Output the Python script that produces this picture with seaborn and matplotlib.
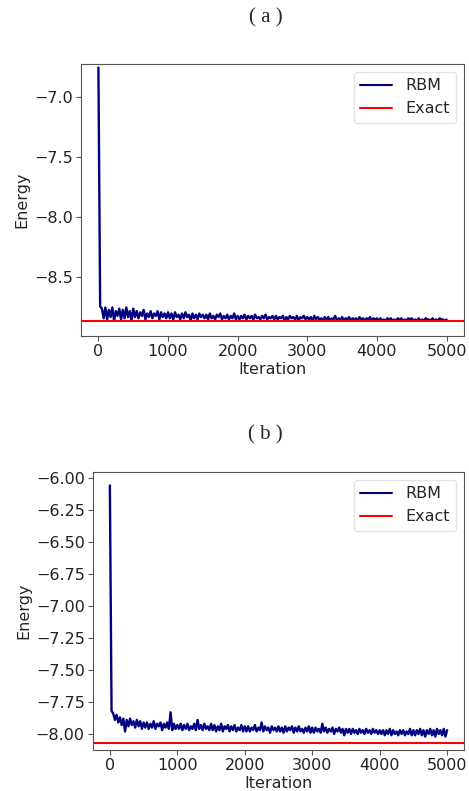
import numpy as np
import matplotlib
matplotlib.use("Agg")
import matplotlib.pyplot as plt
import seaborn as sns

# iterations sampled every 25 steps (0 .. 5000)
iteracoes = np.arange(0, 5001, 25)

# energia RBM painel (a)
rbm_a = [
    -6.76, -8.74,
    -8.76, -8.84, -8.75, -8.85, -8.77, -8.83, -8.75, -8.86, -8.78, -8.82,
    -8.76, -8.85, -8.77, -8.84, -8.75, -8.83, -8.78, -8.86, -8.76,
    -8.83, -8.78, -8.84, -8.79, -8.82, -8.77, -8.85, -8.80, -8.83, -8.78,
    -8.84, -8.80, -8.82, -8.78, -8.85, -8.79, -8.83, -8.80, -8.84, -8.79,
    -8.84, -8.80, -8.85, -8.79, -8.83, -8.81, -8.85, -8.80, -8.84, -8.79,
    -8.83, -8.81, -8.86, -8.80, -8.84, -8.81, -8.85, -8.80, -8.83, -8.81,
    -8.84, -8.81, -8.85, -8.80, -8.84, -8.82, -8.85, -8.81, -8.83, -8.80,
    -8.85, -8.82, -8.84, -8.81, -8.85, -8.82, -8.84, -8.80, -8.85, -8.82,
    -8.85, -8.82, -8.84, -8.81, -8.85, -8.82, -8.84, -8.82, -8.85, -8.81,
    -8.84, -8.83, -8.85, -8.82, -8.84, -8.81, -8.85, -8.83, -8.84, -8.82,
    -8.85, -8.82, -8.85, -8.83, -8.84, -8.82, -8.86, -8.83, -8.85, -8.82,
    -8.84, -8.83, -8.85, -8.82, -8.86, -8.83, -8.84, -8.82, -8.85, -8.83,
    -8.85, -8.83, -8.86, -8.82, -8.85, -8.83, -8.85, -8.84, -8.86, -8.83,
    -8.85, -8.83, -8.86, -8.84, -8.85, -8.82, -8.86, -8.84, -8.85, -8.83,
    -8.86, -8.84, -8.85, -8.83, -8.86, -8.84, -8.85, -8.84, -8.86, -8.83,
    -8.85, -8.84, -8.86, -8.84, -8.85, -8.83, -8.86, -8.84, -8.85, -8.84,
    -8.86, -8.84, -8.86, -8.85, -8.86, -8.84, -8.85, -8.84, -8.86, -8.85,
    -8.86, -8.84, -8.85, -8.84, -8.86, -8.85, -8.86, -8.84, -8.85, -8.84,
    -8.86, -8.85, -8.86, -8.84, -8.86, -8.85, -8.86, -8.84, -8.85, -8.85,
    -8.86, -8.84, -8.86, -8.85, -8.86, -8.84, -8.85, -8.85, -8.86, -8.85,
]

# energia RBM painel (b)
rbm_b = [
    -6.06, -7.82,
    -7.84, -7.89, -7.85, -7.91, -7.87, -7.93, -7.88, -7.98, -7.89, -7.94,
    -7.88, -7.93, -7.90, -7.95, -7.89, -7.94, -7.90, -7.96, -7.91,
    -7.95, -7.91, -7.96, -7.92, -7.95, -7.90, -7.96, -7.92, -7.94, -7.91,
    -7.97, -7.92, -7.95, -7.91, -7.96, -7.83, -7.97, -7.92, -7.96, -7.93,
    -7.96, -7.92, -7.97, -7.93, -7.96, -7.92, -7.97, -7.94, -7.96, -7.92,
    -7.97, -7.89, -7.96, -7.93, -7.97, -7.92, -7.96, -7.94, -7.97, -7.92,
    -7.97, -7.93, -7.98, -7.94, -7.97, -7.92, -7.98, -7.94, -7.96, -7.93,
    -7.98, -7.94, -7.97, -7.93, -7.98, -7.95, -7.97, -7.93, -7.98, -7.94,
    -7.98, -7.94, -7.98, -7.95, -7.97, -7.93, -7.98, -7.95, -7.97, -7.91,
    -7.98, -7.94, -7.97, -7.95, -7.99, -7.94, -7.97, -7.95, -7.98, -7.94,
    -7.98, -7.95, -7.99, -7.94, -7.98, -7.95, -7.97, -7.94, -7.99, -7.95,
    -7.98, -7.94, -7.98, -7.96, -7.99, -7.95, -7.98, -7.94, -7.99, -7.95,
    -7.99, -7.95, -7.98, -7.96, -7.99, -7.92, -7.98, -7.95, -7.99, -7.96,
    -7.98, -7.95, -8.00, -7.96, -7.98, -7.95, -7.99, -7.96, -8.01, -7.96,
    -7.99, -7.96, -8.00, -7.96, -7.99, -7.97, -8.00, -7.96, -7.99, -7.97,
    -8.00, -7.96, -7.99, -7.97, -8.00, -7.96, -7.99, -7.97, -8.00, -7.97,
    -8.00, -7.97, -8.01, -7.97, -8.00, -7.96, -8.01, -7.97, -8.00, -7.98,
    -8.01, -7.97, -8.00, -7.97, -8.01, -7.98, -8.00, -7.96, -8.01, -7.97,
    -8.01, -7.97, -8.00, -7.96, -8.01, -7.97, -8.02, -7.97, -8.00, -7.96,
    -8.01, -7.97, -8.02, -7.96, -8.00, -7.97, -8.01, -7.96, -8.02, -7.97,
]

exato_a = -8.86
exato_b = -8.07

sns.set_style("ticks")
plt.rcParams['font.family'] = ['DejaVu Sans']
plt.rcParams['font.size'] = 11.5

fig = plt.figure(figsize=(4.69, 7.91), dpi=100)
ax_a = fig.add_axes([0.1727, 0.5752, 0.8166, 0.3439])
ax_b = fig.add_axes([0.1983, 0.0518, 0.7910, 0.3515])

paineis = [
    (ax_a, rbm_a, exato_a, (-8.987, -6.73), [-7.0, -7.5, -8.0, -8.5], "%.1f"),
    (ax_b, rbm_b, exato_b, (-8.125, -5.955),
     [-6.0, -6.25, -6.5, -6.75, -7.0, -7.25, -7.5, -7.75, -8.0], "%.2f"),
]

for ax, rbm, exato, lim, yt, fmt in paineis:
    sns.lineplot(x=iteracoes, y=rbm, ax=ax, color='navy', linewidth=1.7, label='RBM')
    ax.axhline(exato, color='red', linewidth=1.5, label='Exact')
    ax.set_xlim(-250, 5250)
    ax.set_ylim(*lim)
    ax.set_xticks([0, 1000, 2000, 3000, 4000, 5000])
    ax.set_yticks(yt)
    ax.set_yticklabels([(fmt % v).replace('-', '\u2212') for v in yt])
    ax.set_xlabel("Iteration", labelpad=2)
    ax.set_ylabel("Energy", labelpad=3)
    for s in ax.spines.values():
        s.set_color('#555555')
    ax.tick_params(colors='#222222', color='#555555', labelsize=11.5, pad=2.5)
    leg = ax.legend(loc='upper right', fontsize=11.5, frameon=True, edgecolor='#dddddd')
    leg.get_lines()[0].set_linewidth(1.5)

fig.text(0.566, 0.978, "( a )", ha='center', va='center', family='Liberation Serif', fontsize=15)
fig.text(0.566, 0.450, "( b )", ha='center', va='center', family='Liberation Serif', fontsize=15)

fig.savefig("out.png", dpi=100)
